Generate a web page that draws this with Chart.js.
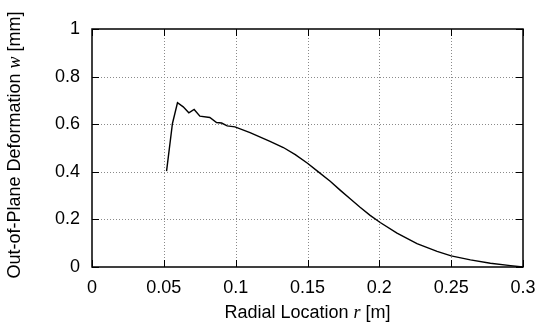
<!DOCTYPE html>
<html>
<head>
<meta charset="utf-8">
<script src="https://cdn.jsdelivr.net/npm/chart.js@4"></script>
<style>
  html, body { margin: 0; padding: 0; background: #fff; }
  #wrap { width: 539px; height: 325px; }
</style>
</head>
<body>
<div id="wrap"><canvas id="chart"></canvas></div>
<script>
// radial location r [m] and out-of-plane deformation w [mm]
const radius = [0.0519, 0.056, 0.0595, 0.0635, 0.0674, 0.0711, 0.0751, 0.082, 0.0867, 0.0902,
  0.0941, 0.0995, 0.11, 0.1239, 0.1332, 0.1415, 0.15, 0.1569, 0.1658, 0.1727, 0.1797, 0.1866,
  0.1936, 0.2006, 0.2123, 0.2262, 0.2402, 0.25, 0.2634, 0.2773, 0.2913, 0.3];
const deformation = [0.403, 0.603, 0.69, 0.673, 0.648, 0.662, 0.634, 0.628, 0.607, 0.605,
  0.593, 0.589, 0.565, 0.528, 0.502, 0.472, 0.436, 0.403, 0.360, 0.323, 0.287, 0.251,
  0.217, 0.187, 0.142, 0.098, 0.066, 0.047, 0.030, 0.016, 0.006, 0];
const xTicks = [0, 0.05, 0.1, 0.15, 0.2, 0.25, 0.3];
const yTicks = [0, 0.2, 0.4, 0.6, 0.8, 1];

const FONT = '"Liberation Sans", Arial, sans-serif';
const SERIF = '"Liberation Serif", "Times New Roman", serif';
const SIZE = 18;

function fmt(v) {
  return String(+v.toFixed(2));
}

// draw a title made of plain and italic pieces, centred on (cx, cy)
function drawPieces(ctx, pieces, cx, cy) {
  let total = 0;
  pieces.forEach(p => {
    ctx.font = p.font;
    p.w = ctx.measureText(p.text).width;
    total += p.w;
  });
  let x = cx - total / 2;
  pieces.forEach(p => {
    ctx.font = p.font;
    ctx.fillText(p.text, x, cy);
    x += p.w;
  });
}

const framePlugin = {
  id: 'frame',
  beforeDatasetsDraw(chart) {
    const { ctx, chartArea: a, scales } = chart;
    ctx.save();
    ctx.strokeStyle = '#8a8a8a';
    ctx.lineWidth = 1;
    ctx.setLineDash([1, 2]);
    xTicks.slice(1, -1).forEach(v => {
      const x = Math.round(scales.x.getPixelForValue(v)) + 0.5;
      ctx.beginPath();
      ctx.moveTo(x, a.top);
      ctx.lineTo(x, a.bottom);
      ctx.stroke();
    });
    yTicks.slice(1, -1).forEach(v => {
      const y = Math.round(scales.y.getPixelForValue(v)) + 0.5;
      ctx.beginPath();
      ctx.moveTo(a.left, y);
      ctx.lineTo(a.right, y);
      ctx.stroke();
    });
    ctx.restore();
  },
  afterDraw(chart) {
    const { ctx, chartArea: a, scales } = chart;
    const len = 7;
    ctx.save();
    ctx.strokeStyle = '#000';
    ctx.lineWidth = 1.5;
    ctx.setLineDash([]);
    ctx.strokeRect(a.left, a.top, a.right - a.left, a.bottom - a.top);
    ctx.lineWidth = 1;
    ctx.beginPath();
    xTicks.forEach(v => {
      const x = Math.round(scales.x.getPixelForValue(v)) + 0.5;
      ctx.moveTo(x, a.bottom); ctx.lineTo(x, a.bottom - len);
      ctx.moveTo(x, a.top); ctx.lineTo(x, a.top + len);
    });
    yTicks.forEach(v => {
      const y = Math.round(scales.y.getPixelForValue(v)) + 0.5;
      ctx.moveTo(a.left, y); ctx.lineTo(a.left + len, y);
      ctx.moveTo(a.right, y); ctx.lineTo(a.right - len, y);
    });
    ctx.stroke();

    // axis titles
    ctx.fillStyle = '#000';
    ctx.textBaseline = 'middle';
    ctx.textAlign = 'left';
    drawPieces(ctx, [
      { text: 'Radial Location ', font: SIZE + 'px ' + FONT },
      { text: 'r', font: 'italic ' + SIZE + 'px ' + SERIF },
      { text: ' [m]', font: SIZE + 'px ' + FONT }
    ], (a.left + a.right) / 2, 313);
    ctx.translate(15, (a.top + a.bottom) / 2 - 3);
    ctx.rotate(-Math.PI / 2);
    drawPieces(ctx, [
      { text: 'Out-of-Plane Deformation ', font: SIZE + 'px ' + FONT },
      { text: 'w', font: 'italic ' + SIZE + 'px ' + SERIF },
      { text: ' [mm]', font: SIZE + 'px ' + FONT }
    ], 0, 0);
    ctx.restore();
  }
};

new Chart(document.getElementById('chart'), {
  type: 'scatter',
  data: {
    datasets: [{
      data: radius.map((r, i) => ({ x: r, y: deformation[i] })),
      showLine: true,
      borderColor: '#000',
      borderWidth: 1.4,
      pointRadius: 0,
      tension: 0
    }]
  },
  options: {
    responsive: true,
    maintainAspectRatio: false,
    animation: false,
    layout: { padding: { top: 29, right: 16, left: 0, bottom: 0 } },
    plugins: { legend: { display: false }, tooltip: { enabled: false } },
    scales: {
      x: {
        type: 'linear',
        min: 0,
        max: 0.3,
        grid: { display: false, drawTicks: false },
        border: { display: false },
        afterBuildTicks: scale => { scale.ticks = xTicks.map(v => ({ value: v })); },
        afterFit: scale => {
          scale.height = 58;
          scale.paddingLeft = 0;
          scale.paddingRight = 0;
        },
        ticks: { color: '#000', padding: 10, font: { family: FONT, size: SIZE }, callback: fmt, maxRotation: 0 }
      },
      y: {
        min: 0,
        max: 1,
        grid: { display: false, drawTicks: false },
        border: { display: false },
        afterBuildTicks: scale => { scale.ticks = yTicks.map(v => ({ value: v })); },
        afterFit: scale => {
          scale.width = 92;
          scale.paddingTop = 0;
          scale.paddingBottom = 0;
        },
        ticks: { color: '#000', padding: 12, font: { family: FONT, size: SIZE }, callback: fmt }
      }
    }
  },
  plugins: [framePlugin]
});
</script>
</body>
</html>
